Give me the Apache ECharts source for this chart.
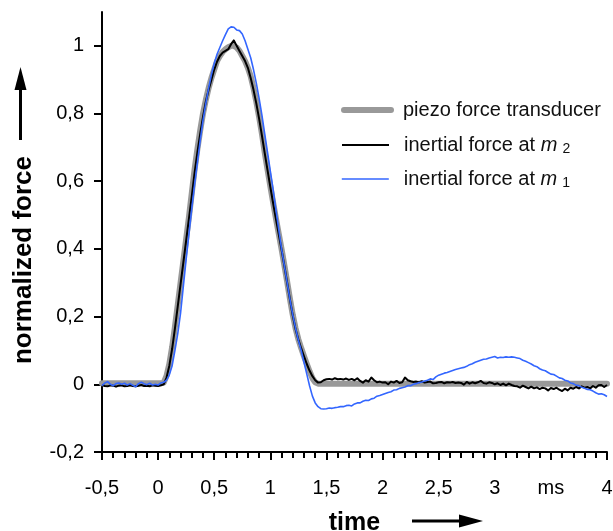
<!DOCTYPE html>
<html>
<head>
<meta charset="utf-8">
<script src="https://cdn.jsdelivr.net/npm/echarts@6/dist/echarts.min.js"></script>
<style>
  html, body { margin: 0; padding: 0; background: #fff; }
  #chart { width: 613px; height: 531px; }
</style>
</head>
<body>
<div id="chart"></div>
<script>
// Recording grid of the two accelerometer channels (ms)
const sampleStart = -0.5;
const sampleStep = 0.025;

// Piezo force transducer, normalized (ms, value)
const piezoTime = [
  -0.5, 0, 0.025,
  0.05, 0.075, 0.1, 0.125, 0.15, 0.175, 0.2, 0.225, 0.25, 0.275,
  0.3, 0.325, 0.35, 0.375, 0.4, 0.425, 0.45, 0.475, 0.5, 0.525,
  0.55, 0.575, 0.6, 0.625, 0.65, 0.675, 0.7, 0.725, 0.75, 0.775,
  0.8, 0.825, 0.85, 0.875, 0.9, 0.925, 0.95, 0.975, 1.0, 1.025,
  1.05, 1.075, 1.1, 1.125, 1.15, 1.175, 1.2, 1.225, 1.25, 1.275,
  1.3, 1.325, 1.35, 1.375, 1.4, 1.425,
  1.5, 2, 2.5, 3, 3.5, 4
];
const piezoForce = [
  0.003, 0.003, 0.003,
  0.005, 0.025, 0.06, 0.11, 0.17, 0.235, 0.3, 0.365, 0.43, 0.495,
  0.565, 0.635, 0.695, 0.75, 0.8, 0.84, 0.875, 0.905, 0.93, 0.955,
  0.97, 0.982, 0.99, 0.996, 1.0, 1.0, 0.995, 0.985, 0.97, 0.955,
  0.935, 0.91, 0.875, 0.835, 0.79, 0.74, 0.685, 0.635, 0.585, 0.537,
  0.49, 0.445, 0.4, 0.352, 0.303, 0.252, 0.205, 0.165, 0.133, 0.107,
  0.083, 0.06, 0.038, 0.018, 0.006, 0.002,
  0.002, 0.002, 0.002, 0.002, 0.002, 0.002
];

// Inertial force at m2, normalized, one value per sample
const inertialM2 = [
  -0.002, -0.005, -0.006, -0.003, -0.004, -0.007, -0.004, -0.003, -0.006, -0.005,
  -0.003, -0.005, -0.006, -0.004, -0.002, -0.005, -0.004, -0.006, -0.003, -0.004,
  -0.005, -0.003,
  0.0, 0.02, 0.055, 0.105, 0.165, 0.23, 0.295, 0.36, 0.425, 0.49,
  0.555, 0.625, 0.685, 0.74, 0.79, 0.835, 0.87, 0.9, 0.93, 0.953,
  0.97, 0.98, 0.985, 0.99, 1.005, 1.016, 1.0, 0.985, 0.97, 0.955,
  0.935, 0.905, 0.87, 0.83, 0.785, 0.735, 0.683, 0.633, 0.583, 0.535,
  0.488, 0.443, 0.398, 0.35, 0.3, 0.25, 0.203, 0.163, 0.132, 0.106,
  0.083, 0.06, 0.04, 0.024, 0.012, 0.005, 0.006, 0.012, 0.015,
  0.016, 0.014, 0.018, 0.015, 0.016, 0.014, 0.017, 0.013, 0.016, 0.012,
  0.018, 0.01, 0.005, 0.012, 0.008, 0.02, 0.012, 0.006, 0.008, 0.005,
  0.006, 0.0, 0.008, 0.005, 0.01, 0.004, 0.006, 0.02, 0.012, 0.009,
  0.007, 0.008, 0.006, 0.009, 0.005, 0.007, 0.008, 0.003, 0.004, 0.006,
  0.007, 0.003, 0.006, 0.005, 0.007, 0.004, 0.005, 0.004, -0.001, 0.007,
  0.002, 0.006, 0.003, 0.006, 0.01, 0.004, 0.002, 0.006, 0.004, 0.0,
  0.003, -0.002, 0.002, -0.003, 0.002, -0.002, -0.005, -0.006, -0.01, -0.004,
  -0.008, -0.012, -0.007, -0.012, -0.009, -0.014, -0.01, -0.012, -0.018, -0.011,
  -0.014, -0.01, -0.016, -0.02, -0.013, -0.018, -0.01, -0.013, -0.008, -0.012,
  -0.006, -0.01, -0.008, -0.012, -0.005, -0.01, -0.003, -0.002, -0.008, -0.002
];

// Inertial force at m1, normalized, one value per sample
const inertialM1 = [
  -0.004, 0.004, 0.008, 0.0, -0.004, 0.002, 0.004, 0.0, 0.003, -0.002,
  0.002, -0.003, -0.007, 0.002, 0.006, 0.002, -0.001, 0.003, -0.002, 0.0,
  -0.002, 0.004,
  0.006, 0.012, 0.028, 0.055, 0.1, 0.15, 0.21, 0.29, 0.37, 0.445,
  0.52, 0.59, 0.655, 0.72, 0.78, 0.83, 0.875, 0.915, 0.948, 0.975,
  0.995, 1.015, 1.033, 1.05, 1.056, 1.055, 1.047, 1.045, 1.035, 1.015,
  0.99, 0.965, 0.93, 0.89, 0.845, 0.795, 0.74, 0.685, 0.63, 0.575,
  0.515, 0.458, 0.4, 0.35, 0.3, 0.25, 0.205, 0.165, 0.13, 0.1,
  0.065, 0.03, -0.005, -0.035, -0.055, -0.066, -0.072, -0.073,
  -0.072, -0.07, -0.071, -0.069, -0.068, -0.066, -0.066, -0.063, -0.062, -0.064,
  -0.058, -0.055, -0.055, -0.05, -0.047, -0.048, -0.043, -0.041, -0.035, -0.033,
  -0.03, -0.027, -0.024, -0.022, -0.017, -0.016, -0.012, -0.01, -0.008, -0.004,
  -0.004, 0.0, 0.002, 0.005, 0.007, 0.01, 0.012, 0.016, 0.014, 0.022,
  0.027, 0.03, 0.033, 0.035, 0.038, 0.041, 0.044, 0.046, 0.048, 0.05,
  0.053, 0.058, 0.061, 0.065, 0.068, 0.071, 0.074, 0.075, 0.078, 0.08,
  0.082, 0.078, 0.08, 0.079, 0.081, 0.08, 0.081, 0.08, 0.078, 0.076,
  0.071, 0.068, 0.064, 0.06, 0.055, 0.052, 0.046, 0.042, 0.04, 0.035,
  0.03, 0.029, 0.024, 0.019, 0.017, 0.012, 0.01, 0.004, 0.002, -0.003,
  -0.004, -0.009, -0.012, -0.015, -0.016, -0.02, -0.025, -0.029, -0.028, -0.031,
  -0.036
];

// Axis ticks and their printed labels (decimal comma, unit in place of 3.5)
const xTicks = [-0.5, 0, 0.5, 1, 1.5, 2, 2.5, 3, 3.5, 4];
const xTickLabels = ['-0,5', '0', '0,5', '1', '1,5', '2', '2,5', '3', 'ms', '4'];
const yTicks = [-0.2, 0, 0.2, 0.4, 0.6, 0.8, 1];
const yTickLabels = ['-0,2', '0', '0,2', '0,4', '0,6', '0,8', '1'];

const seriesNames = ['piezo force transducer', 'inertial force at m2', 'inertial force at m1'];

const FONT = "'Liberation Sans', Arial, Helvetica, sans-serif";
const sampleTime = inertialM2.map((_, i) => +(sampleStart + i * sampleStep).toFixed(3));
const pair = (ts, vs) => ts.map((t, i) => [t, vs[i]]);

function lookup(ticks, labels, v) {
  const i = ticks.findIndex(t => Math.abs(t - v) < 1e-6);
  return i < 0 ? '' : labels[i];
}

const legendRich = {
  t: { fontFamily: FONT, fontSize: 20, color: '#111', padding: [0, 0, 0, 10], lineHeight: 22 },
  i: { fontFamily: FONT, fontSize: 20, color: '#111', fontStyle: 'italic', lineHeight: 22 },
  s: { fontFamily: FONT, fontSize: 14, color: '#111', verticalAlign: 'bottom', lineHeight: 12, padding: [0, 0, 0, 5] }
};
function legendLabel(name) {
  if (name === seriesNames[1]) return '{t|inertial force at }{i|m}{s|2}';
  if (name === seriesNames[2]) return '{t|inertial force at }{i|m}{s|1}';
  return '{t|' + name + '}';
}
function makeLegend(name, top, width, cap, textGap) {
  const rich = Object.assign({}, legendRich, {
    t: Object.assign({}, legendRich.t, { padding: [0, 0, 0, textGap] })
  });
  return {
    data: [name], left: 341, top: top, padding: 0, orient: 'vertical',
    itemWidth: 47, itemHeight: 22, selectedMode: false,
    itemStyle: { opacity: 0, borderWidth: 0 },
    lineStyle: { width: width, cap: cap },
    formatter: legendLabel,
    textStyle: { rich: rich, fontFamily: FONT, fontSize: 20 }
  };
}

const chart = echarts.init(document.getElementById('chart'), null, { renderer: 'canvas' });
chart.setOption({
  animation: false,
  backgroundColor: '#fff',
  grid: { left: 102, right: 6, top: 12, bottom: 79, containLabel: false, outerBoundsMode: 'none' },
  legend: [
    makeLegend(seriesNames[0], 100, 6, 'round', 7),
    makeLegend(seriesNames[1], 135, 2, 'butt', 10),
    makeLegend(seriesNames[2], 169, 1.6, 'butt', 10)
  ],
  xAxis: {
    type: 'value', min: -0.5, max: 4, interval: 0.5,
    name: 'time', nameLocation: 'middle', nameGap: 59,
    nameTextStyle: { fontFamily: FONT, fontSize: 25, fontWeight: 'bold', color: '#000' },
    axisLine: { show: true, onZero: false, lineStyle: { color: '#000', width: 2 } },
    axisTick: { show: true, inside: false, length: 8, lineStyle: { color: '#000', width: 2 } },
    minorTick: { show: true, splitNumber: 5, length: 6, lineStyle: { color: '#000', width: 2 } },
    axisLabel: {
      margin: 26, color: '#000', fontFamily: FONT, fontSize: 20,
      formatter: v => lookup(xTicks, xTickLabels, v)
    },
    splitLine: { show: false }, minorSplitLine: { show: false }
  },
  yAxis: {
    type: 'value', min: -0.2, max: 1.1, interval: 0.2,
    axisLine: { show: true, onZero: false, lineStyle: { color: '#000', width: 2 } },
    axisTick: { show: true, inside: false, length: 8, customValues: yTicks, lineStyle: { color: '#000', width: 2 } },
    axisLabel: {
      margin: 18, color: '#000', fontFamily: FONT, fontSize: 20, customValues: yTicks,
      formatter: v => lookup(yTicks, yTickLabels, v)
    },
    splitLine: { show: false }
  },
  graphic: [
    {
      type: 'text', x: 24, y: 260, rotation: Math.PI / 2,
      style: { text: 'normalized force', fontFamily: FONT, fontSize: 26, fontWeight: 'bold', fill: '#000', align: 'center', verticalAlign: 'middle' }
    },
    { type: 'line', shape: { x1: 20.5, y1: 140, x2: 20.5, y2: 86 }, style: { stroke: '#000', lineWidth: 3 } },
    { type: 'polygon', shape: { points: [[20.5, 67], [14.5, 90], [26.5, 90]] }, style: { fill: '#000' } },
    { type: 'line', shape: { x1: 412, y1: 521, x2: 464, y2: 521 }, style: { stroke: '#000', lineWidth: 3 } },
    { type: 'polygon', shape: { points: [[483, 521], [459, 514.5], [459, 527.5]] }, style: { fill: '#000' } }
  ],
  series: [
    {
      name: seriesNames[0], type: 'line', data: pair(piezoTime, piezoForce), symbol: 'none',
      itemStyle: { color: '#999999' },
      lineStyle: { color: '#999999', width: 6, cap: 'round', join: 'round' }
    },
    {
      name: seriesNames[1], type: 'line', data: pair(sampleTime, inertialM2), symbol: 'none',
      itemStyle: { color: '#000000' },
      lineStyle: { color: '#000000', width: 2, join: 'round' }
    },
    {
      name: seriesNames[2], type: 'line', data: pair(sampleTime, inertialM1), symbol: 'none',
      itemStyle: { color: '#3366ff' },
      lineStyle: { color: '#3366ff', width: 1.6, join: 'round' }
    }
  ]
});
</script>
</body>
</html>
